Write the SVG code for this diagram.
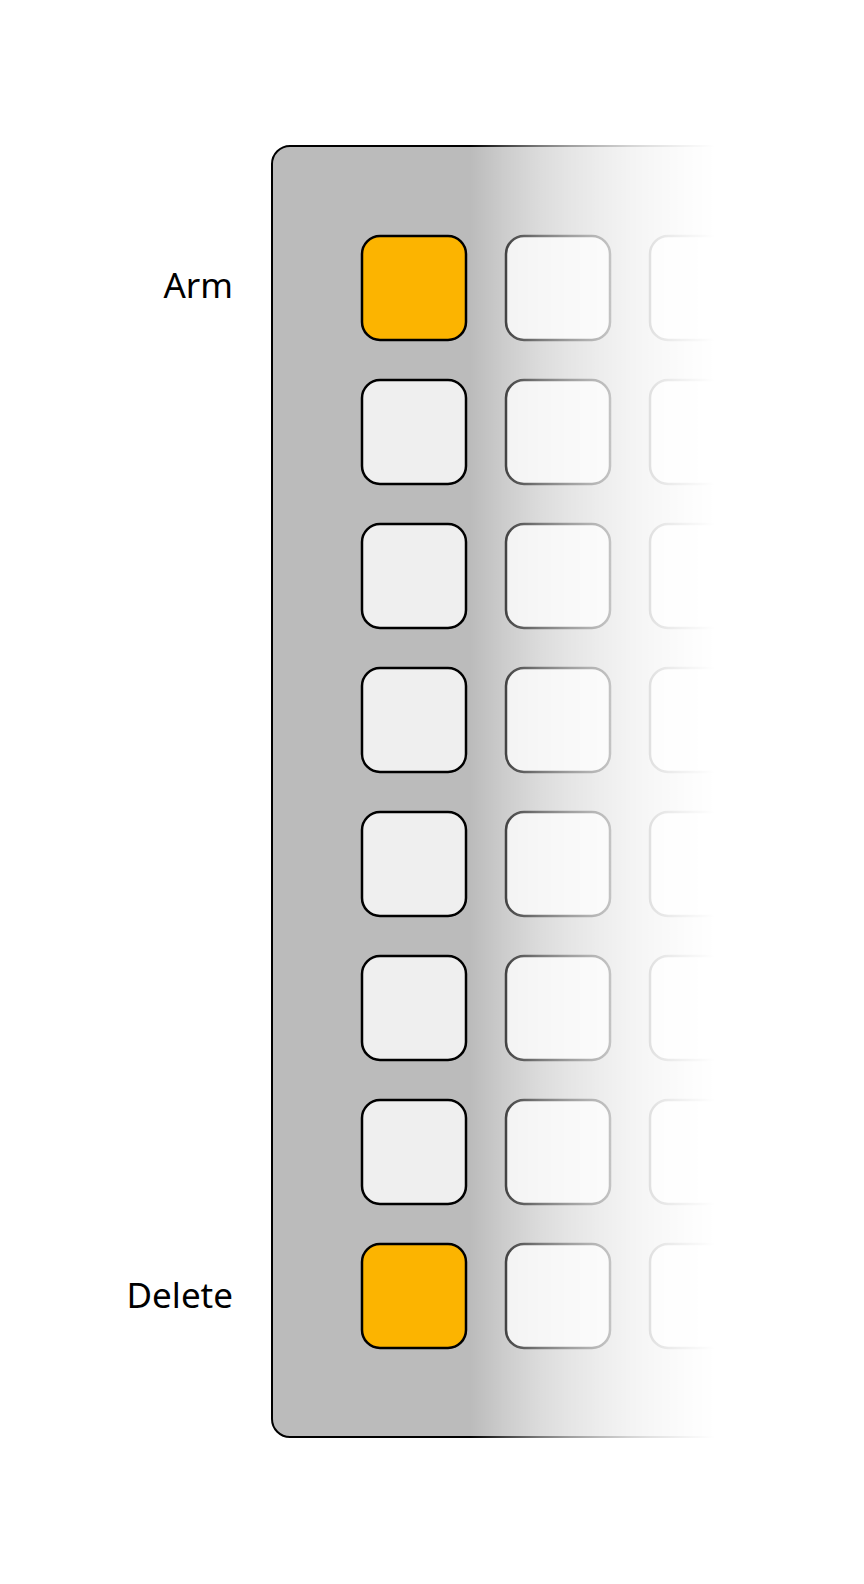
<svg xmlns="http://www.w3.org/2000/svg" width="864" height="1584" viewBox="0 0 864 1584">
  <style>
    .panel { fill: #bbbbbb; stroke: #000; stroke-width: 2; }
    .btn { fill: #efefef; stroke: #000; stroke-width: 2.5; }
    .btn.on { fill: #fcb400; }
    .lbl { font-family: "Noto Sans", "Open Sans", "DejaVu Sans", sans-serif; font-size: 35px; fill: #000; text-anchor: end; }
  </style>
  <defs>
    <linearGradient id="fade" gradientUnits="userSpaceOnUse" x1="470" y1="0" x2="715" y2="0">
      <stop offset="0" stop-color="#fff" stop-opacity="1"/>
      <stop offset="0.143" stop-color="#fff" stop-opacity="0.74"/>
      <stop offset="0.286" stop-color="#fff" stop-opacity="0.52"/>
      <stop offset="0.408" stop-color="#fff" stop-opacity="0.38"/>
      <stop offset="0.53" stop-color="#fff" stop-opacity="0.27"/>
      <stop offset="0.653" stop-color="#fff" stop-opacity="0.17"/>
      <stop offset="0.735" stop-color="#fff" stop-opacity="0.12"/>
      <stop offset="0.857" stop-color="#fff" stop-opacity="0.06"/>
      <stop offset="0.94" stop-color="#fff" stop-opacity="0.025"/>
      <stop offset="1" stop-color="#fff" stop-opacity="0"/>
    </linearGradient>
    <mask id="fadeMask" maskUnits="userSpaceOnUse" x="0" y="0" width="864" height="1584">
      <rect x="0" y="0" width="864" height="1584" fill="url(#fade)"/>
    </mask>
  </defs>
  <rect width="864" height="1584" fill="#fff"/>
  <g mask="url(#fadeMask)">
    <g id="panel">
      <rect class="panel" x="272" y="146" width="620" height="1291" rx="18" ry="18"/>
    </g>
    <g id="buttons">
      <g id="row1">
        <rect class="btn on" x="362" y="236" width="104" height="104" rx="18"/>
        <rect class="btn" x="506" y="236" width="104" height="104" rx="18"/>
        <rect class="btn" x="650" y="236" width="104" height="104" rx="18"/>
      </g>
      <g id="row2">
        <rect class="btn" x="362" y="380" width="104" height="104" rx="18"/>
        <rect class="btn" x="506" y="380" width="104" height="104" rx="18"/>
        <rect class="btn" x="650" y="380" width="104" height="104" rx="18"/>
      </g>
      <g id="row3">
        <rect class="btn" x="362" y="524" width="104" height="104" rx="18"/>
        <rect class="btn" x="506" y="524" width="104" height="104" rx="18"/>
        <rect class="btn" x="650" y="524" width="104" height="104" rx="18"/>
      </g>
      <g id="row4">
        <rect class="btn" x="362" y="668" width="104" height="104" rx="18"/>
        <rect class="btn" x="506" y="668" width="104" height="104" rx="18"/>
        <rect class="btn" x="650" y="668" width="104" height="104" rx="18"/>
      </g>
      <g id="row5">
        <rect class="btn" x="362" y="812" width="104" height="104" rx="18"/>
        <rect class="btn" x="506" y="812" width="104" height="104" rx="18"/>
        <rect class="btn" x="650" y="812" width="104" height="104" rx="18"/>
      </g>
      <g id="row6">
        <rect class="btn" x="362" y="956" width="104" height="104" rx="18"/>
        <rect class="btn" x="506" y="956" width="104" height="104" rx="18"/>
        <rect class="btn" x="650" y="956" width="104" height="104" rx="18"/>
      </g>
      <g id="row7">
        <rect class="btn" x="362" y="1100" width="104" height="104" rx="18"/>
        <rect class="btn" x="506" y="1100" width="104" height="104" rx="18"/>
        <rect class="btn" x="650" y="1100" width="104" height="104" rx="18"/>
      </g>
      <g id="row8">
        <rect class="btn on" x="362" y="1244" width="104" height="104" rx="18"/>
        <rect class="btn" x="506" y="1244" width="104" height="104" rx="18"/>
        <rect class="btn" x="650" y="1244" width="104" height="104" rx="18"/>
      </g>
    </g>
  </g>
  <g id="labels">
    <text id="label-arm" class="lbl" x="233" y="298">Arm</text>
    <text id="label-delete" class="lbl" x="233" y="1308">Delete</text>
  </g>
  <g id="connectors"/>
</svg>
